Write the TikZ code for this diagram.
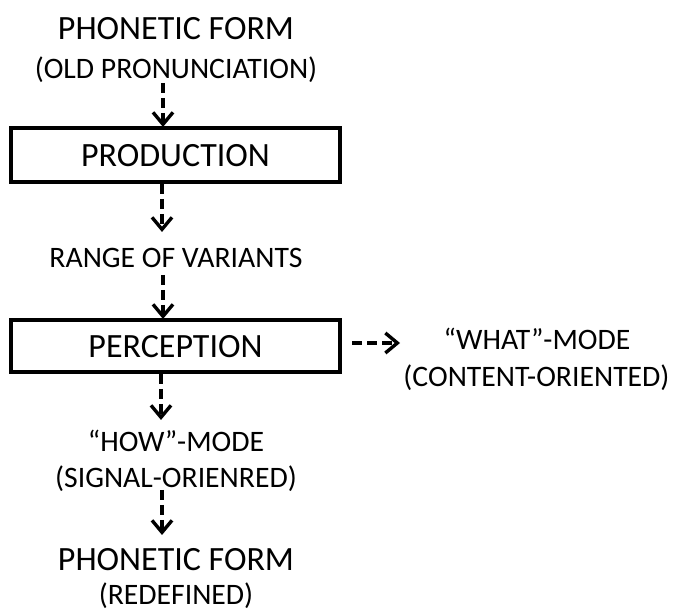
\documentclass[tikz,border=0pt]{standalone}
\usepackage{fontspec}
\setmainfont{Carlito}
\usetikzlibrary{arrows.meta}
\tikzset{
  darr/.style={line width=3.4pt, dash pattern=on 10pt off 5pt, -{Straight Barb[length=12pt,width=20pt,line width=3.4pt]}},
  stagebox/.style={draw, line width=3.3pt, inner sep=0pt},
  big/.style={font=\fontsize{34}{36}\selectfont, inner sep=0pt, anchor=base},
  small/.style={font=\fontsize{29.7}{31}\selectfont, inner sep=0pt, anchor=base},
}
\begin{document}
\begin{tikzpicture}[x=1pt,y=-1pt]
\useasboundingbox (0,0) rectangle (673,612);
\node[big] (pf1) at (176,40) {PHONETIC FORM};
\node[small] (old) at (176,79) {(OLD PRONUNCIATION)};
\draw[stagebox] (11,128) rectangle (340,182);
\node[big] (prod) at (175.5,167) {PRODUCTION};
\node[small] (range) at (176,268) {RANGE OF VARIANTS};
\draw[stagebox] (11,320) rectangle (340,372);
\node[big] (perc) at (175.5,358) {PERCEPTION};
\node[small] (what) at (537,350) {“WHAT”-MODE};
\node[small] (cont) at (536.5,387) {(CONTENT-ORIENTED)};
\node[small] (how) at (176,452) {“HOW”-MODE};
\node[small] (sig) at (176,488) {(SIGNAL-ORIENRED)};
\node[big] (pf2) at (176,571) {PHONETIC FORM};
\node[small] (red) at (176,605) {(REDEFINED)};
\coordinate (a1s) at (163,83);
\coordinate (a1e) at (163,127);
\draw[darr] (a1s) -- (a1e);
\coordinate (a2s) at (162,184);
\coordinate (a2e) at (162,232);
\draw[darr] (a2s) -- (a2e);
\coordinate (a3s) at (163,275);
\coordinate (a3e) at (163,319);
\draw[darr] (a3s) -- (a3e);
\coordinate (a4s) at (161,374);
\coordinate (a4e) at (161,420);
\draw[darr] (a4s) -- (a4e);
\coordinate (a5s) at (162,490);
\coordinate (a5e) at (162,535);
\draw[darr] (a5s) -- (a5e);
\coordinate (a6s) at (352,343);
\coordinate (a6e) at (400,343);
\draw[darr] (a6s) -- (a6e);
\end{tikzpicture}
\end{document}
